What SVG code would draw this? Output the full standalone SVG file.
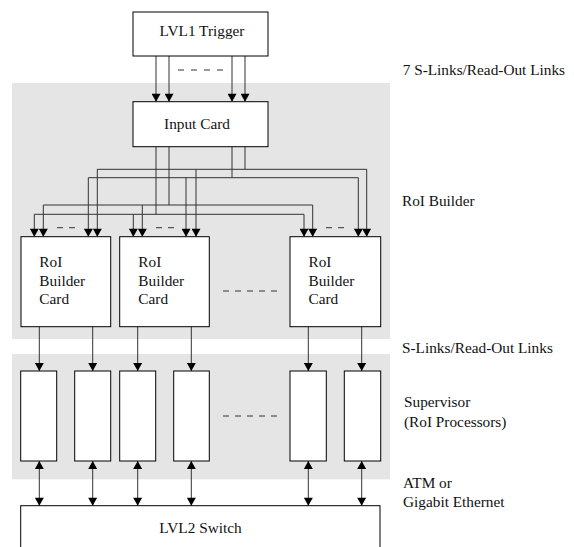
<svg xmlns="http://www.w3.org/2000/svg" width="574" height="547" viewBox="0 0 574 547" font-family="'Liberation Serif', 'Times New Roman', serif">
<style>
.bg{fill:#e5e5e5;stroke:none}
.box{fill:#fff;stroke:#000;stroke-width:1}
.ln{fill:none;stroke:#333;stroke-width:1}
.ar{fill:none;stroke:#333;stroke-width:1;marker-end:url(#ah)}
.dar{fill:none;stroke:#333;stroke-width:1;marker-start:url(#ah);marker-end:url(#ah)}
.dash{fill:none;stroke:#333;stroke-width:1;stroke-dasharray:6 6}
text{font-family:'Liberation Serif','Times New Roman',serif;font-size:15.3px;fill:#111}
.c{text-anchor:middle}
</style>
<defs>
<marker id="ah" markerUnits="userSpaceOnUse" markerWidth="9" markerHeight="9" refX="8" refY="4.5" orient="auto-start-reverse" viewBox="0 0 8 9">
<path d="M0,0 L8,4.5 L0,9 z" fill="#000"/>
</marker>
</defs>
<rect class="bg" x="12" y="83" width="378" height="256"/>
<rect class="bg" x="12" y="354" width="378" height="125.3"/>

<g id="connectors">
<path class="ar" d="M156,56 V101.7"/>
<path class="ar" d="M169,56 V101.7"/>
<path class="ar" d="M232,56 V101.7"/>
<path class="ar" d="M245,56 V101.7"/>
<path class="dash" d="M178,70 H224" style="stroke-dasharray:6 7"/>

<path class="ln" d="M156,146.7 V214.3 M34.3,214.3 H304"/>
<path class="ln" d="M169,146.7 V205 M43.3,205 H312.7"/>
<path class="ln" d="M232,146.7 V177.7 M88.3,177.7 H358.3"/>
<path class="ln" d="M245,146.7 V169.3 M97.3,169.3 H366.7"/>
<path class="ar" d="M34.3,214.3 V236.7"/>
<path class="ar" d="M133.3,214.3 V236.7"/>
<path class="ar" d="M304,214.3 V236.7"/>
<path class="ar" d="M43.3,205 V236.7"/>
<path class="ar" d="M142.3,205 V236.7"/>
<path class="ar" d="M312.7,205 V236.7"/>
<path class="ar" d="M88.3,177.7 V236.7"/>
<path class="ar" d="M186,177.7 V236.7"/>
<path class="ar" d="M358.3,177.7 V236.7"/>
<path class="ar" d="M97.3,169.3 V236.7"/>
<path class="ar" d="M196,169.3 V236.7"/>
<path class="ar" d="M366.7,169.3 V236.7"/>
<path class="dash" d="M57,227.7 H81"/>
<path class="dash" d="M156,227.7 H176"/>
<path class="dash" d="M326,227.7 H346"/>
<path class="dash" d="M223,291 H277"/>

<path class="ar" d="M39.3,326.7 V371"/>
<path class="ar" d="M92.7,326.7 V371"/>
<path class="ar" d="M137.7,326.7 V371"/>
<path class="ar" d="M191.3,326.7 V371"/>
<path class="ar" d="M308.3,326.7 V371"/>
<path class="ar" d="M361.7,326.7 V371"/>
<path class="dash" d="M223,416 H277"/>

<path class="dar" d="M39.3,461 V505.7"/>
<path class="dar" d="M92.7,461 V505.7"/>
<path class="dar" d="M137.7,461 V505.7"/>
<path class="dar" d="M191.3,461 V505.7"/>
<path class="dar" d="M308.3,461 V505.7"/>
<path class="dar" d="M361.7,461 V505.7"/>
</g>

<g id="lvl1-trigger">
<rect class="box" x="133" y="12" width="135" height="44"/>
<text class="c" x="202" y="36">LVL1 Trigger</text>
</g>
<g id="input-card">
<rect class="box" x="133" y="101.7" width="135" height="45"/>
<text class="c" x="197" y="129.3">Input Card</text>
</g>
<g id="rob-card-1">
<rect class="box" x="21" y="236.7" width="89.7" height="90"/>
<text x="39.3" y="267">RoI</text><text x="39.3" y="285.5">Builder</text><text x="39.3" y="304">Card</text>
</g>
<g id="rob-card-2">
<rect class="box" x="119.7" y="236.7" width="89.6" height="90"/>
<text x="138.3" y="267">RoI</text><text x="138.3" y="285.5">Builder</text><text x="138.3" y="304">Card</text>
</g>
<g id="rob-card-3">
<rect class="box" x="290" y="236.7" width="90.7" height="90"/>
<text x="308.5" y="267">RoI</text><text x="308.5" y="285.5">Builder</text><text x="308.5" y="304">Card</text>
</g>
<g id="sup-1"><rect class="box" x="20.7" y="371" width="36" height="90"/></g>
<g id="sup-2"><rect class="box" x="74.7" y="371" width="36" height="90"/></g>
<g id="sup-3"><rect class="box" x="119.7" y="371" width="36" height="90"/></g>
<g id="sup-4"><rect class="box" x="173.7" y="371" width="35.6" height="90"/></g>
<g id="sup-5"><rect class="box" x="290" y="371" width="36.3" height="90"/></g>
<g id="sup-6"><rect class="box" x="344.3" y="371" width="36.4" height="90"/></g>
<g id="lvl2-switch">
<rect class="box" x="20.7" y="505.7" width="359.3" height="60"/>
<text class="c" x="200.5" y="533">LVL2 Switch</text>
</g>

<g id="labels">
<text x="402.7" y="75">7 S-Links/Read-Out Links</text>
<text x="402" y="206">RoI Builder</text>
<text x="402" y="353.3">S-Links/Read-Out Links</text>
<text x="404" y="407">Supervisor</text>
<text x="404" y="427">(RoI Processors)</text>
<text x="403" y="488">ATM or</text>
<text x="403" y="507">Gigabit Ethernet</text>
</g>
</svg>
